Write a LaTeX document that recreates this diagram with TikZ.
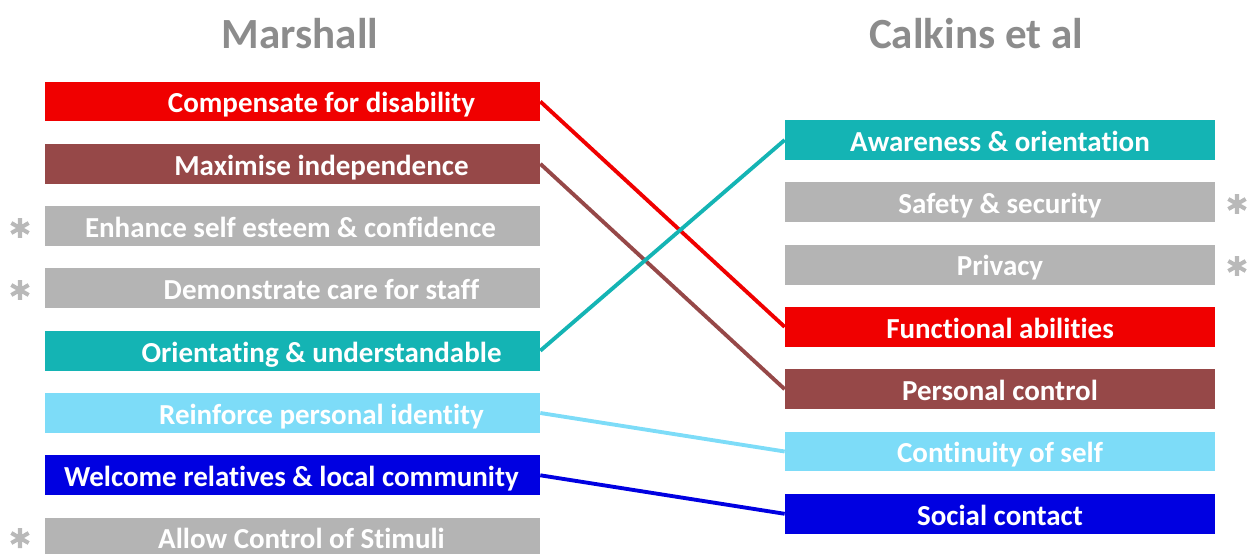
\documentclass[tikz,border=0pt]{standalone}
\usepackage{fontspec}
\setmainfont{Carlito}[Ligatures={NoCommon,NoRare,NoContextual}]
\definecolor{mred}{RGB}{240,0,0}
\definecolor{mbrown}{RGB}{150,72,72}
\definecolor{mteal}{RGB}{20,180,180}
\definecolor{mlight}{RGB}{125,220,248}
\definecolor{mblue}{RGB}{0,0,225}
\definecolor{mgray}{RGB}{180,180,180}
\definecolor{titlegray}{RGB}{140,140,140}
\definecolor{stargray}{RGB}{185,185,185}
\begin{document}
\begin{tikzpicture}[x=0.02cm, y=-0.02cm,
  lbl/.style={text=white, font=\fontsize{16.5}{19}\selectfont\bfseries,
    text height=0.5cm, text depth=0.045cm, inner sep=0pt},
  mbox/.style n args={3}{fill=#1, minimum width=9.9cm, minimum height=0.8cm, inner sep=0pt,
    label={[lbl, xshift=#2]center:#3}},
  cbox/.style={fill=#1, minimum width=8.6cm, minimum height=0.8cm, lbl},
  title/.style={text=titlegray, font=\fontsize{24.5}{28}\selectfont\bfseries, anchor=base},
  starmark/.style={circle, minimum size=0.44cm, inner sep=0pt,
    path picture={\draw[stargray, line width=2.3pt]
      foreach \a in {30,90,150} {(path picture bounding box.center) +(\a:0.2cm) -- +(\a+180:0.2cm)};}},
  link/.style={line width=2.2pt, draw=#1}]
\clip (0,0) rectangle (1248,554);
% Titel
\node[title] (tm) at (300,49) {Marshall};
\node[title] (tc) at (976,49) {Calkins et al};
% Marshall
\node[mbox={mred}{0.58cm}{Compensate for disability}] (m1) at (292.5,101.5) {};
\node[mbox={mbrown}{0.58cm}{Maximise independence}] (m2) at (292.5,163.8) {};
\node[mbox={mgray}{-0.04cm}{Enhance self esteem \& confidence}] (m3) at (292.5,226.1) {};
\node[mbox={mgray}{0.58cm}{Demonstrate care for staff}] (m4) at (292.5,288.4) {};
\node[mbox={mteal}{0.58cm}{Orientating \& understandable}] (m5) at (292.5,350.7) {};
\node[mbox={mlight}{0.58cm}{Reinforce personal identity}] (m6) at (292.5,413) {};
\node[mbox={mblue}{-0.02cm}{Welcome relatives \& local community}] (m7) at (292.5,475.3) {};
\node[mbox={mgray}{0.18cm}{Allow Control of Stimuli}] (m8) at (292.5,537.6) {};
% Calkins
\node[cbox=mteal] (c1) at (1000,140) {Awareness \& orientation};
\node[cbox=mgray] (c2) at (1000,202.3) {Safety \& security};
\node[cbox=mgray] (c3) at (1000,264.6) {Privacy};
\node[cbox=mred] (c4) at (1000,326.9) {Functional abilities};
\node[cbox=mbrown] (c5) at (1000,389.2) {Personal control};
\node[cbox=mlight] (c6) at (1000,451.5) {Continuity of self};
\node[cbox=mblue] (c7) at (1000,513.8) {Social contact};
% Sternchen
\node[starmark] (s1) at (20,228) {};
\node[starmark] (s2) at (20,290) {};
\node[starmark] (s3) at (20,538) {};
\node[starmark] (s4) at (1237,204) {};
\node[starmark] (s5) at (1237,266) {};
% Verbindungen
\draw[link=mred] (m1.east) -- (c4.west);
\draw[link=mbrown] (m2.east) -- (c5.west);
\draw[link=mteal] (m5.east) -- (c1.west);
\draw[link=mlight] (m6.east) -- (c6.west);
\draw[link=mblue] (m7.east) -- (c7.west);
\end{tikzpicture}
\end{document}
